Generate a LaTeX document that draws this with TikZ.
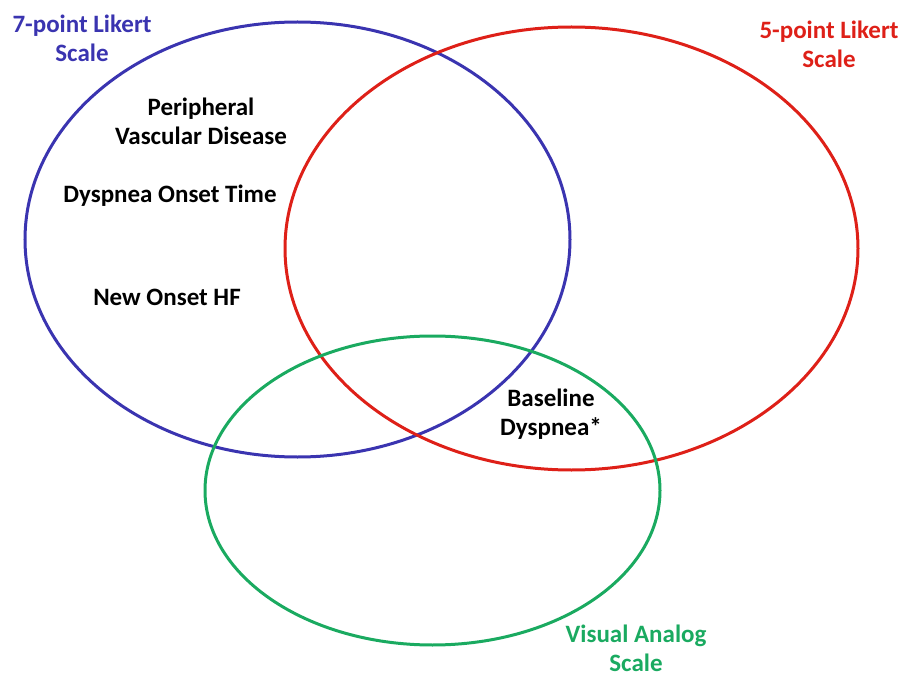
\documentclass[tikz,border=0pt]{standalone}
\usepackage{fontspec}
\setmainfont{Carlito}
\definecolor{vblue}{RGB}{58,52,176}
\definecolor{vred}{RGB}{222,32,24}
\definecolor{vgreen}{RGB}{26,170,96}
\begin{document}
\begin{tikzpicture}[x=1pt,y=-1pt,
  ring/.style={line width=3pt},
  lbl/.style={font=\bfseries\fontsize{25}{29}\selectfont, align=center, inner sep=0pt}]
\useasboundingbox (0,0) rectangle (906,682);
\draw[ring,vblue] (297.5,239.5) ellipse [x radius=272.5, y radius=217.5];
\draw[ring,vred] (571.5,248.5) ellipse [x radius=286.5, y radius=221.5];
\draw[ring,vgreen] (432.5,490.5) ellipse [x radius=227.5, y radius=154.5];
\node[lbl,text=vblue] (t7) at (82,38) {7-point Likert\\Scale};
\node[lbl,text=vred] (t5) at (829,44) {5-point Likert\\Scale};
\node[lbl,text=vgreen] (tv) at (636,648) {Visual Analog\\Scale};
\node[lbl] (pvd) at (201,121) {Peripheral\\Vascular Disease};
\node[lbl] (dot) at (170,196) {Dyspnea Onset Time};
\node[lbl] (hf) at (167,297) {New Onset HF};
\node[lbl] (bd) at (551,414) {Baseline\\Dyspnea*};
\end{tikzpicture}
\end{document}
